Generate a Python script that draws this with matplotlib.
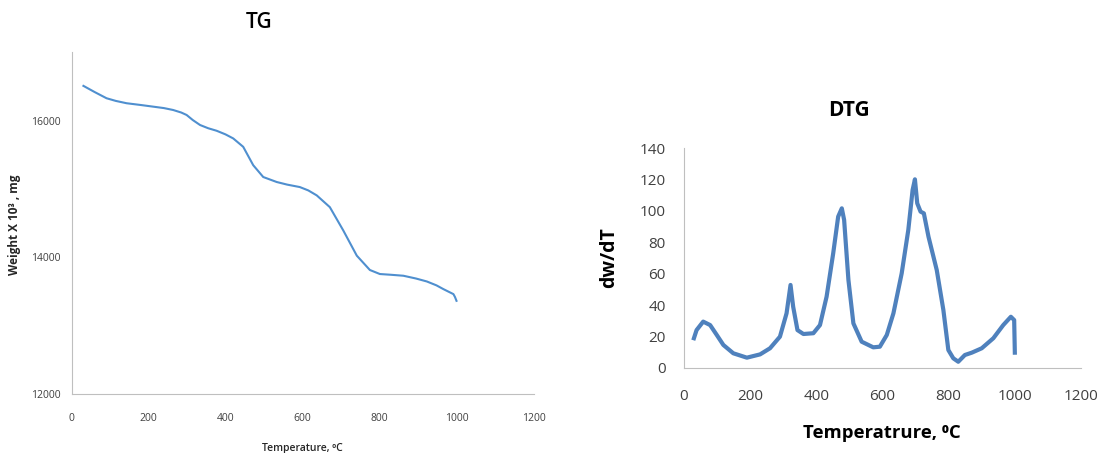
import matplotlib.pyplot as plt

plt.rcParams['font.family'] = ['Open Sans', 'DejaVu Sans']

# TG curve (temperature in C, weight x 10^3 mg)
tg_temp = [31, 60, 91, 115, 143, 180, 212, 240, 264, 285, 299, 315, 334, 355, 377, 400, 420,
           446, 472, 498, 533, 560, 593, 615, 637, 671, 706, 741, 775, 801, 830, 862, 895,
           923, 948, 966, 992, 996, 1000]
tg_weight = [16510, 16420, 16329, 16290, 16256, 16230, 16206, 16185, 16157, 16120, 16084, 16010,
             15937, 15890, 15853, 15800, 15741, 15618, 15349, 15176, 15103, 15065, 15029, 14980,
             14907, 14735, 14393, 14025, 13815, 13756, 13745, 13731, 13690, 13647, 13590, 13535,
             13462, 13420, 13364]

# DTG curve
dtg_temp = [30, 38, 58, 79, 99, 119, 149, 190, 230, 260, 290, 310, 322, 330, 343, 361, 391,
            411, 431, 451, 466, 477, 484, 497, 512, 537, 572, 592, 613, 633, 658, 678, 691,
            698, 705, 715, 725, 739, 764, 784, 799, 814, 829, 849, 870, 900, 935, 965, 988,
            998, 1000]
dtg_val = [18.8, 24, 29.4, 27.2, 20.9, 14.5, 9.2, 6.4, 8.5, 12.4, 19.8, 34.7, 52.8, 38.9, 24,
           21.5, 22, 27.2, 45.3, 73, 96.4, 101.7, 94.3, 56, 28.3, 16.6, 13, 13.4, 20.9, 34.7,
           60.2, 87.9, 113.4, 120.2, 104.9, 99.6, 98.5, 83.6, 62.3, 36.8, 11.3, 6, 3.8, 8.1,
           9.6, 12.4, 18.8, 27.2, 32.5, 30.4, 9.6]

W, H = 1101, 453
fig = plt.figure(figsize=(W / 100, H / 100), dpi=100)

spine_col = '#BFBFBF'
xt = [0, 200, 400, 600, 800, 1000, 1200]

# --- TG panel ---
ax1 = fig.add_axes([71.5 / W, 1 - 394 / H, 462 / W, 341.6 / H])
ax1.plot(tg_temp, tg_weight, color='#4F8FCF', linewidth=1.5)
ax1.set_xlim(0, 1200)
ax1.set_ylim(12000, 17000)
ax1.set_xticks(xt)
ax1.set_yticks([12000, 14000, 16000])
ax1.tick_params(length=0, labelsize=7.5, colors='#404040')
ax1.tick_params(axis='x', pad=14)
ax1.tick_params(axis='y', pad=8)
for s in ['top', 'right']:
    ax1.spines[s].set_visible(False)
for s in ['left', 'bottom']:
    ax1.spines[s].set_color(spine_col)

fig.text(259 / W, 1 - 23 / H, 'TG', ha='center', va='center', fontsize=15, fontweight='semibold')
fig.text(15 / W, 1 - 225 / H, 'Weight X 10³ , mg', rotation=90, ha='center', va='center',
         fontsize=8.5, fontweight='bold', color='#262626')
fig.text(302 / W, 1 - 448 / H, 'Temperature, ⁰C', ha='center', va='center', fontsize=7.5,
         fontweight='semibold', color='#262626')

# --- DTG panel ---
ax2 = fig.add_axes([684 / W, 1 - 367.7 / H, 397 / W, 219.4 / H])
ax2.plot(dtg_temp, dtg_val, color='#4F81BD', linewidth=3)
ax2.set_xlim(0, 1200)
ax2.set_ylim(0, 140)
ax2.set_xticks(xt)
ax2.set_yticks(range(0, 141, 20))
ax2.tick_params(length=0, labelsize=11, colors='#404040')
ax2.tick_params(axis='x', pad=15)
ax2.tick_params(axis='y', pad=13)
for s in ['top', 'right']:
    ax2.spines[s].set_visible(False)
for s in ['left', 'bottom']:
    ax2.spines[s].set_color(spine_col)

fig.text(849 / W, 1 - 110 / H, 'DTG', ha='center', va='center', fontsize=15, fontweight='bold')
fig.text(609 / W, 1 - 258 / H, 'dw/dT', rotation=90, ha='center', va='center',
         fontsize=14, fontweight='bold')
fig.text(882 / W, 1 - 433 / H, 'Temperatrure, ⁰C', ha='center', va='center',
         fontsize=13.3, fontweight='bold')

fig.savefig('out.png', dpi=100)
